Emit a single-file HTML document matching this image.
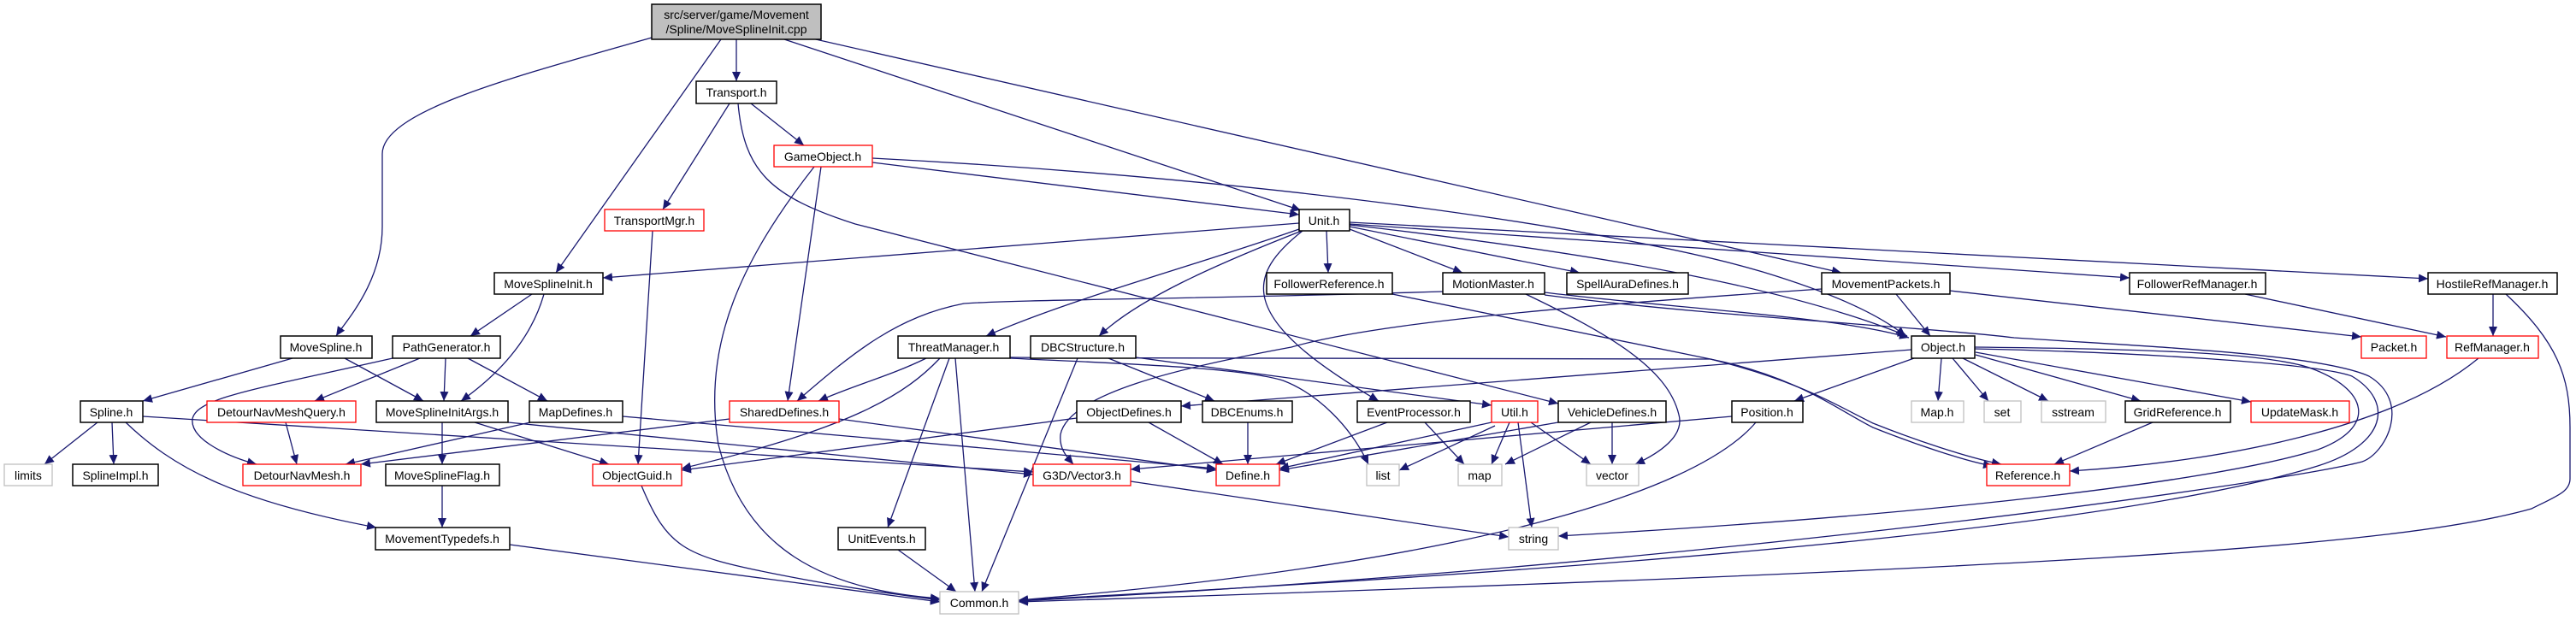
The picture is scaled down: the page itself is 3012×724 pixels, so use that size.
<!DOCTYPE html>
<html><head><meta charset="utf-8"><style>
html,body{margin:0;padding:0;background:#fff;}
svg{display:block;}
text{font-family:"Liberation Sans",sans-serif;font-size:14px;text-anchor:middle;fill:#000;}
.e{fill:none;stroke:#191970;stroke-width:1.3;marker-end:url(#a);}
.n{fill:#fff;stroke:#000;stroke-width:1.5;}
.r{fill:#fff;stroke:#ff0000;stroke-width:1.3;}
.g{fill:#fff;stroke:#bfbfbf;stroke-width:1.3;}
</style></head><body>
<svg width="3012" height="724" viewBox="0 0 3012 724" xmlns="http://www.w3.org/2000/svg">
<defs><marker id="a" markerUnits="userSpaceOnUse" markerWidth="12" markerHeight="10" refX="11" refY="5" orient="auto"><path d="M0,0 L11,5 L0,10 z" fill="#191970"/></marker></defs>
<g>
<path class="e" d="M861,46 L861,95"/>
<path class="e" d="M762,44 C600,90 447,130 447,180 L447,265 C447,330 405,375 393,393"/>
<path class="e" d="M843,46 L650,319"/>
<path class="e" d="M917,46 L1521,246"/>
<path class="e" d="M945,44 L2153,319"/>
<path class="e" d="M878,121 L940,170"/>
<path class="e" d="M853,121 L775,245"/>
<path class="e" d="M863,121 C870,200 900,230 1000,262 L1822,472"/>
<path class="e" d="M1020,190 L1519,251"/>
<path class="e" d="M1020,185 C1500,210 1900,270 2061,318 C2150,345 2200,370 2228,393"/>
<path class="e" d="M960,195 L921,469"/>
<path class="e" d="M952,195 C870,300 820,400 840,520 C870,640 960,690 1099,700"/>
<path class="e" d="M763,270 L746,543"/>
<path class="e" d="M1519,261 L705,325"/>
<path class="e" d="M1551,270 L1553,319"/>
<path class="e" d="M1578,268 L1710,319"/>
<path class="e" d="M1578,265 L1847,319"/>
<path class="e" d="M1519,268 C1400,310 1250,350 1153,393"/>
<path class="e" d="M1522,270 C1420,310 1330,350 1285,393"/>
<path class="e" d="M1523,270 C1460,320 1440,370 1612,469"/>
<path class="e" d="M1578,263 C1900,300 2100,340 2230,393"/>
<path class="e" d="M1578,262 L2490,325"/>
<path class="e" d="M1578,260 L2839,326"/>
<path class="e" d="M622,344 L550,393"/>
<path class="e" d="M636,344 C620,400 580,440 539,469"/>
<path class="e" d="M342,419 L167,469"/>
<path class="e" d="M403,419 L495,469"/>
<path class="e" d="M491,419 L368,469"/>
<path class="e" d="M521,419 L519,469"/>
<path class="e" d="M547,419 L640,469"/>
<path class="e" d="M459,419 C300,455 230,465 225,490 C222,515 270,535 300,543"/>
<path class="e" d="M114,494 L52,543"/>
<path class="e" d="M131,494 L133,543"/>
<path class="e" d="M147,494 C200,545 270,585 440,617"/>
<path class="e" d="M167,487 L1208,552"/>
<path class="e" d="M334,494 L347,543"/>
<path class="e" d="M620,494 L404,543"/>
<path class="e" d="M728,487 L1422,548"/>
<path class="e" d="M517,494 L517,543"/>
<path class="e" d="M555,494 L712,543"/>
<path class="e" d="M594,494 L1208,555"/>
<path class="e" d="M517,568 L517,617"/>
<path class="e" d="M596,637 L1099,704"/>
<path class="e" d="M750,568 C780,640 800,650 900,670 C1000,690 1050,695 1099,702"/>
<path class="e" d="M853,490 L422,543"/>
<path class="e" d="M981,490 L1422,550"/>
<path class="e" d="M1687,341 C1400,350 1200,350 1127,355 C1050,370 1000,410 932,469"/>
<path class="e" d="M1083,419 C1040,440 1000,450 957,469"/>
<path class="e" d="M1099,419 C1060,460 1000,500 797,548"/>
<path class="e" d="M1259,489 L797,550"/>
<path class="e" d="M1110,419 L1038,617"/>
<path class="e" d="M1117,419 L1140,692"/>
<path class="e" d="M1181,419 C1300,425 1446,429 1500,445 C1542,461 1580,500 1600,543"/>
<path class="e" d="M1181,418 C1500,421 1829,421 2000,420 C2100,440 2150,480 2190,500 C2240,520 2300,540 2330,545"/>
<path class="e" d="M1328,418 L1744,474"/>
<path class="e" d="M1296,419 L1420,469"/>
<path class="e" d="M1260,419 L1148,692"/>
<path class="e" d="M1343,494 L1430,543"/>
<path class="e" d="M1459,494 L1459,543"/>
<path class="e" d="M1622,494 L1492,543"/>
<path class="e" d="M1666,494 L1712,543"/>
<path class="e" d="M1744,494 L1496,548"/>
<path class="e" d="M1748,498 L1636,550"/>
<path class="e" d="M1765,494 L1744,543"/>
<path class="e" d="M1790,494 L1860,543"/>
<path class="e" d="M1775,494 L1791,617"/>
<path class="e" d="M1822,494 L1496,550"/>
<path class="e" d="M1885,494 L1885,543"/>
<path class="e" d="M1860,494 L1760,543"/>
<path class="e" d="M1784,344 C1880,390 1950,430 1963,485 C1970,510 1940,530 1912,543"/>
<path class="e" d="M2130,338 C1800,360 1600,380 1510,406 C1380,430 1250,460 1240,508 C1238,525 1248,535 1255,543"/>
<path class="e" d="M1806,342 C1950,360 2150,370 2232,395"/>
<path class="e" d="M2309,406 C2500,408 2645,412 2700,430 C2770,455 2780,500 2710,526 C2600,560 2300,600 1822,627"/>
<path class="e" d="M2309,408 C2500,412 2710,425 2750,440 C2800,470 2790,520 2710,545 C2500,610 2000,660 1191,702"/>
<path class="e" d="M1806,345 C2000,370 2258,383 2355,395 C2500,405 2710,413 2770,440 C2820,470 2790,530 2762,540 C2677,563 2000,662 1191,703"/>
<path class="e" d="M2930,344 C2990,400 3005,440 3005,500 L3005,560 C3005,575 2990,580 2960,595 C2800,640 2400,665 1191,704"/>
<path class="e" d="M2898,419 C2800,500 2600,540 2420,551"/>
<path class="e" d="M2517,494 L2402,543"/>
<path class="e" d="M1628,344 C1800,380 1900,400 2000,420 C2100,445 2140,470 2190,495 C2240,515 2300,535 2340,543"/>
<path class="e" d="M2280,340 L2761,394"/>
<path class="e" d="M2217,344 L2257,393"/>
<path class="e" d="M2625,344 L2860,394"/>
<path class="e" d="M2915,344 L2915,393"/>
<path class="e" d="M2235,409 L1381,475"/>
<path class="e" d="M2238,419 L2098,469"/>
<path class="e" d="M2270,419 L2266,469"/>
<path class="e" d="M2283,419 L2325,469"/>
<path class="e" d="M2295,419 L2395,469"/>
<path class="e" d="M2310,415 L2503,469"/>
<path class="e" d="M2310,412 L2632,470"/>
<path class="e" d="M2053,494 C1980,580 1700,660 1191,702"/>
<path class="e" d="M2025,487 L1322,549"/>
<path class="e" d="M1322,563 L1764,628"/>
<path class="e" d="M1050,643 L1118,692"/>
</g>
<g>
<rect x="762" y="5" width="198" height="41" fill="#bfbfbf" stroke="#000" stroke-width="1.5"/>
<text x="861" y="22">src/server/game/Movement</text>
<text x="861" y="39">/Spline/MoveSplineInit.cpp</text>

<rect class="n" x="814" y="95" width="94" height="26"/><text x="861" y="113">Transport.h</text>
<rect class="r" x="905" y="170" width="115" height="25"/><text x="962" y="188">GameObject.h</text>
<rect class="r" x="707" y="245" width="116" height="25"/><text x="765" y="263">TransportMgr.h</text>
<rect class="n" x="1519" y="245" width="59" height="25"/><text x="1548" y="263">Unit.h</text>

<rect class="n" x="578" y="319" width="127" height="25"/><text x="641" y="337">MoveSplineInit.h</text>
<rect class="n" x="1481" y="319" width="147" height="25"/><text x="1554" y="337">FollowerReference.h</text>
<rect class="n" x="1687" y="319" width="119" height="25"/><text x="1746" y="337">MotionMaster.h</text>
<rect class="n" x="1832" y="319" width="142" height="25"/><text x="1903" y="337">SpellAuraDefines.h</text>
<rect class="n" x="2130" y="319" width="150" height="25"/><text x="2205" y="337">MovementPackets.h</text>
<rect class="n" x="2490" y="319" width="159" height="25"/><text x="2569" y="337">FollowerRefManager.h</text>
<rect class="n" x="2839" y="319" width="151" height="25"/><text x="2914" y="337">HostileRefManager.h</text>

<rect class="n" x="328" y="393" width="107" height="26"/><text x="381" y="411">MoveSpline.h</text>
<rect class="n" x="459" y="393" width="126" height="26"/><text x="522" y="411">PathGenerator.h</text>
<rect class="n" x="1050" y="393" width="131" height="26"/><text x="1115" y="411">ThreatManager.h</text>
<rect class="n" x="1205" y="393" width="123" height="26"/><text x="1266" y="411">DBCStructure.h</text>
<rect class="n" x="2235" y="393" width="74" height="26"/><text x="2272" y="411">Object.h</text>
<rect class="r" x="2761" y="393" width="76" height="26"/><text x="2799" y="411">Packet.h</text>
<rect class="r" x="2861" y="393" width="107" height="26"/><text x="2914" y="411">RefManager.h</text>

<rect class="n" x="94" y="469" width="73" height="25"/><text x="130" y="487">Spline.h</text>
<rect class="r" x="242" y="469" width="174" height="25"/><text x="329" y="487">DetourNavMeshQuery.h</text>
<rect class="n" x="440" y="469" width="154" height="25"/><text x="517" y="487">MoveSplineInitArgs.h</text>
<rect class="n" x="619" y="469" width="109" height="25"/><text x="673" y="487">MapDefines.h</text>
<rect class="r" x="853" y="469" width="128" height="25"/><text x="917" y="487">SharedDefines.h</text>
<rect class="n" x="1259" y="469" width="122" height="25"/><text x="1320" y="487">ObjectDefines.h</text>
<rect class="n" x="1406" y="469" width="105" height="25"/><text x="1458" y="487">DBCEnums.h</text>
<rect class="n" x="1587" y="469" width="132" height="25"/><text x="1653" y="487">EventProcessor.h</text>
<rect class="r" x="1744" y="469" width="54" height="25"/><text x="1771" y="487">Util.h</text>
<rect class="n" x="1822" y="469" width="126" height="25"/><text x="1885" y="487">VehicleDefines.h</text>
<rect class="n" x="2025" y="469" width="83" height="25"/><text x="2066" y="487">Position.h</text>
<rect class="g" x="2235" y="469" width="61" height="25"/><text x="2265" y="487">Map.h</text>
<rect class="g" x="2320" y="469" width="43" height="25"/><text x="2341" y="487">set</text>
<rect class="g" x="2387" y="469" width="75" height="25"/><text x="2424" y="487">sstream</text>
<rect class="n" x="2485" y="469" width="123" height="25"/><text x="2546" y="487">GridReference.h</text>
<rect class="r" x="2632" y="469" width="115" height="25"/><text x="2689" y="487">UpdateMask.h</text>

<rect class="g" x="5" y="543" width="56" height="25"/><text x="33" y="561">limits</text>
<rect class="n" x="85" y="543" width="100" height="25"/><text x="135" y="561">SplineImpl.h</text>
<rect class="r" x="284" y="543" width="138" height="25"/><text x="353" y="561">DetourNavMesh.h</text>
<rect class="n" x="451" y="543" width="133" height="25"/><text x="517" y="561">MoveSplineFlag.h</text>
<rect class="r" x="693" y="543" width="104" height="25"/><text x="745" y="561">ObjectGuid.h</text>
<rect class="r" x="1208" y="543" width="114" height="25"/><text x="1265" y="561">G3D/Vector3.h</text>
<rect class="r" x="1422" y="543" width="74" height="25"/><text x="1459" y="561">Define.h</text>
<rect class="g" x="1598" y="543" width="38" height="25"/><text x="1617" y="561">list</text>
<rect class="g" x="1705" y="543" width="51" height="25"/><text x="1730" y="561">map</text>
<rect class="g" x="1855" y="543" width="61" height="25"/><text x="1885" y="561">vector</text>
<rect class="r" x="2323" y="543" width="97" height="25"/><text x="2371" y="561">Reference.h</text>

<rect class="n" x="439" y="617" width="157" height="26"/><text x="517" y="635">MovementTypedefs.h</text>
<rect class="n" x="980" y="617" width="102" height="26"/><text x="1031" y="635">UnitEvents.h</text>
<rect class="g" x="1764" y="617" width="58" height="26"/><text x="1793" y="635">string</text>
<rect class="g" x="1099" y="692" width="92" height="26"/><text x="1145" y="710">Common.h</text>
</g>
</svg>
</body></html>
